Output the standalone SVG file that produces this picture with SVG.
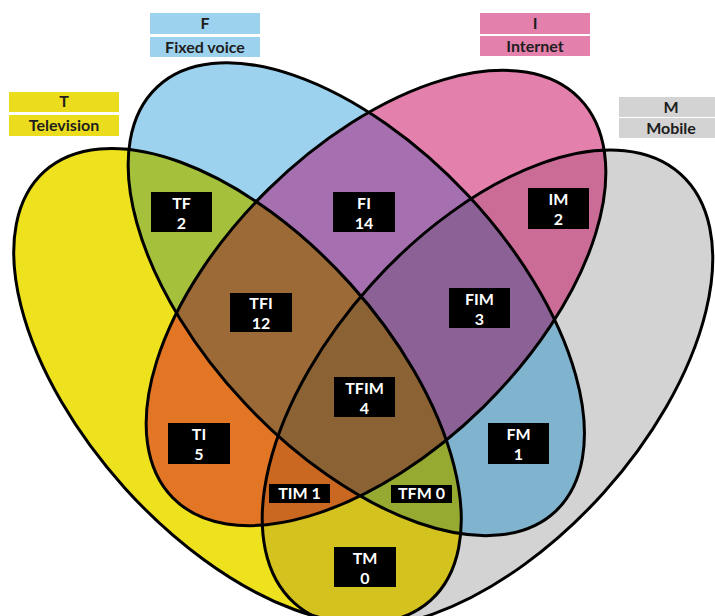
<svg xmlns="http://www.w3.org/2000/svg" xmlns:xlink="http://www.w3.org/1999/xlink" width="715" height="616" viewBox="0 0 715 616">
<style>
.o{fill:none;stroke:#000;stroke-width:3}
.bx{fill:#000}
.wt{font-family:Lato,"Liberation Sans",sans-serif;font-weight:bold;font-size:16px;fill:#fff;text-anchor:middle}
.ht{font-family:Lato,"Liberation Sans",sans-serif;font-weight:bold;font-size:16px;fill:#1e1e1e;text-anchor:middle}
</style>
<defs>
<ellipse id="eT" cx="237.5" cy="385.9" rx="288.6" ry="152.1" transform="rotate(48 237.5 385.9)"/>
<ellipse id="eF" cx="356.3" cy="299.2" rx="291" ry="152.5" transform="rotate(46.8 356.3 299.2)"/>
<ellipse id="eI" cx="376" cy="298" rx="285" ry="153" transform="rotate(-44.5 376 298)"/>
<ellipse id="eM" cx="487.5" cy="388.6" rx="288.6" ry="156" transform="rotate(-48 487.5 388.6)"/>
<clipPath id="cT"><ellipse cx="237.5" cy="385.9" rx="288.6" ry="152.1" transform="rotate(48 237.5 385.9)"/></clipPath>
<clipPath id="cF"><ellipse cx="356.3" cy="299.2" rx="291" ry="152.5" transform="rotate(46.8 356.3 299.2)"/></clipPath>
<clipPath id="cI"><ellipse cx="376" cy="298" rx="285" ry="153" transform="rotate(-44.5 376 298)"/></clipPath>
<clipPath id="cM"><ellipse cx="487.5" cy="388.6" rx="288.6" ry="156" transform="rotate(-48 487.5 388.6)"/></clipPath>
</defs>
<rect width="715" height="616" fill="#fff"/>
<g id="regions">
<use xlink:href="#eT" fill="#EEE11E"/>
<use xlink:href="#eF" fill="#9DD2EE"/>
<use xlink:href="#eI" fill="#E480AC"/>
<use xlink:href="#eM" fill="#D3D3D3"/>
<g clip-path="url(#cT)"><use xlink:href="#eF" fill="#A5C03A"/></g>
<g clip-path="url(#cT)"><use xlink:href="#eI" fill="#E27624"/></g>
<g clip-path="url(#cT)"><use xlink:href="#eM" fill="#D4C21E"/></g>
<g clip-path="url(#cF)"><use xlink:href="#eI" fill="#A670B0"/></g>
<g clip-path="url(#cF)"><use xlink:href="#eM" fill="#80B4CE"/></g>
<g clip-path="url(#cI)"><use xlink:href="#eM" fill="#CA6C96"/></g>
<g clip-path="url(#cT)"><g clip-path="url(#cF)"><use xlink:href="#eI" fill="#9C6A36"/></g></g>
<g clip-path="url(#cT)"><g clip-path="url(#cF)"><use xlink:href="#eM" fill="#96AA32"/></g></g>
<g clip-path="url(#cT)"><g clip-path="url(#cI)"><use xlink:href="#eM" fill="#CA6822"/></g></g>
<g clip-path="url(#cF)"><g clip-path="url(#cI)"><use xlink:href="#eM" fill="#8C6296"/></g></g>
<g clip-path="url(#cT)"><g clip-path="url(#cF)"><g clip-path="url(#cI)"><use xlink:href="#eM" fill="#8A6234"/></g></g></g>
</g>
<g id="outlines">
<use xlink:href="#eT" class="o"/>
<use xlink:href="#eF" class="o"/>
<use xlink:href="#eI" class="o"/>
<use xlink:href="#eM" class="o"/>
</g>
<g id="set-T">
<rect x="9" y="92" width="110" height="20" fill="#EBDD1E"/>
<rect x="9" y="115" width="110" height="21" fill="#EBDD1E"/>
<text class="ht" x="64" y="107">T</text>
<text class="ht" x="64" y="131">Television</text>
</g>
<g id="set-F">
<rect x="150" y="13" width="110" height="21" fill="#9DD2EE"/>
<rect x="150" y="37" width="110" height="20" fill="#9DD2EE"/>
<text class="ht" x="205" y="29">F</text>
<text class="ht" x="205" y="53">Fixed voice</text>
</g>
<g id="set-I">
<rect x="480" y="13" width="110" height="21" fill="#E480AC"/>
<rect x="480" y="36" width="110" height="20" fill="#E480AC"/>
<text class="ht" x="535" y="29">I</text>
<text class="ht" x="535" y="52">Internet</text>
</g>
<g id="set-M">
<rect x="619" y="97" width="96" height="20" fill="#D3D3D3"/>
<rect x="619" y="118" width="96" height="20" fill="#D3D3D3"/>
<text class="ht" x="671" y="113">M</text>
<text class="ht" x="671" y="134">Mobile</text>
</g>
<g id="r-TF"><rect class="bx" x="151" y="192" width="61" height="40"/><text class="wt" x="181.5" y="208.5">TF</text><text class="wt" x="181.5" y="228.5">2</text></g>
<g id="r-FI"><rect class="bx" x="333" y="192" width="62" height="40"/><text class="wt" x="364" y="208.5">FI</text><text class="wt" x="364" y="228.5">14</text></g>
<g id="r-IM"><rect class="bx" x="528" y="188" width="61" height="41"/><text class="wt" x="558.5" y="204.5">IM</text><text class="wt" x="558.5" y="224.5">2</text></g>
<g id="r-TFI"><rect class="bx" x="230" y="293" width="62" height="39"/><text class="wt" x="261" y="309">TFI</text><text class="wt" x="261" y="328.5">12</text></g>
<g id="r-FIM"><rect class="bx" x="449" y="288" width="61" height="40"/><text class="wt" x="479.5" y="304.5">FIM</text><text class="wt" x="479.5" y="324.5">3</text></g>
<g id="r-TFIM"><rect class="bx" x="334" y="377" width="61" height="40"/><text class="wt" x="364.5" y="393.5">TFIM</text><text class="wt" x="364.5" y="413.5">4</text></g>
<g id="r-TI"><rect class="bx" x="168" y="423" width="62" height="41"/><text class="wt" x="199" y="439.5">TI</text><text class="wt" x="199" y="459.5">5</text></g>
<g id="r-FM"><rect class="bx" x="488" y="423" width="61" height="41"/><text class="wt" x="518.5" y="439.5">FM</text><text class="wt" x="518.5" y="459.5">1</text></g>
<g id="r-TIM"><rect class="bx" x="269" y="484" width="61" height="19"/><text class="wt" x="299.5" y="499">TIM 1</text></g>
<g id="r-TFM"><rect class="bx" x="391" y="485" width="61" height="18"/><text class="wt" x="421.5" y="499">TFM 0</text></g>
<g id="r-TM"><rect class="bx" x="334" y="547" width="62" height="40"/><text class="wt" x="365" y="563.5">TM</text><text class="wt" x="365" y="583.5">0</text></g>
</svg>
